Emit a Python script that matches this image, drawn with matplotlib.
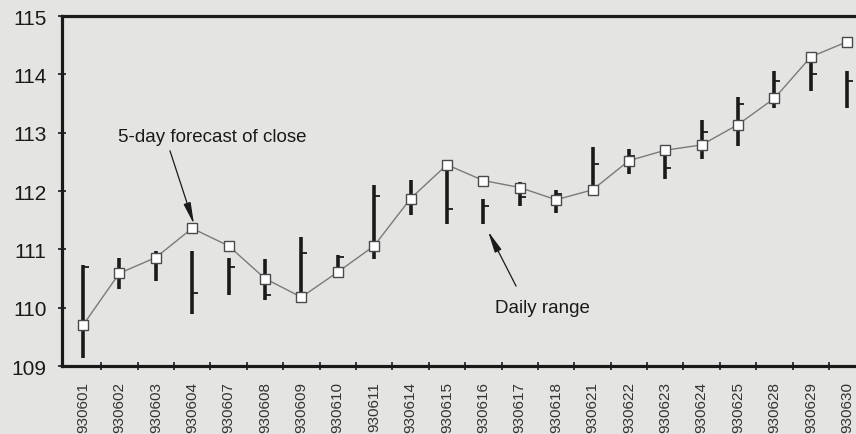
import numpy as np
import matplotlib
matplotlib.use('Agg')
import matplotlib.pyplot as plt

dates = ['930601', '930602', '930603', '930604', '930607', '930608', '930609',
         '930610', '930611', '930614', '930615', '930616', '930617', '930618',
         '930621', '930622', '930623', '930624', '930625', '930628', '930629',
         '930630']

# 5-day forecast of close (line with squares)
forecast = [109.70, 110.59, 110.86, 111.36, 111.06, 110.50, 110.18, 110.61,
            111.06, 111.87, 112.45, 112.18, 112.06, 111.85, 112.02, 112.52,
            112.70, 112.79, 113.14, 113.59, 114.30, 114.56]

# daily range bars
highs = [110.73, 110.85, 110.98, 110.98, 110.86, 110.83, 111.21, 110.90,
         112.10, 112.19, 112.43, 111.86, 112.16, 112.02, 112.76, 112.72,
         112.69, 113.21, 113.61, 114.06, 114.24, 114.06]
lows = [109.13, 110.32, 110.46, 109.89, 110.22, 110.14, 110.18, 110.66,
        110.83, 111.59, 111.43, 111.43, 111.74, 111.62, 112.03, 112.29,
        112.21, 112.55, 112.78, 113.42, 113.72, 113.43]
closes = [110.70, 110.60, 110.90, 110.25, 110.70, 110.22, 110.94, 110.87,
          111.92, 111.80, 111.69, 111.74, 111.90, 111.95, 112.46, 112.60,
          112.40, 113.01, 113.49, 113.89, 114.00, 113.89]

yticks = [109, 110, 111, 112, 113, 114, 115]

bg = '#e4e4e2'
ink = '#1a1a1a'
plt.rcParams['font.family'] = ['Liberation Sans', 'DejaVu Sans']

fig = plt.figure(figsize=(8.56, 4.35), dpi=100, facecolor=bg)
ax = fig.add_axes([0.0724, 0.1563, 0.9276, 0.8046], facecolor=bg)

x = np.arange(len(dates))
ax.vlines(x, lows, highs, color=ink, linewidth=2.6, zorder=2)
ax.plot(x, closes, linestyle='none', marker=1, markersize=4,
        markeredgewidth=1.3, color=ink, zorder=2)
ax.plot(x, forecast, color='#7a7a7a', linewidth=1.0, marker='s',
        markersize=6.5, markerfacecolor='white', markeredgecolor='#4a4a4a',
        markeredgewidth=1.0, zorder=3)

ax.set_xlim(-0.577, 21.24)
ax.set_ylim(109, 115)

for s in ['left', 'bottom', 'top']:
    ax.spines[s].set_linewidth(2.3)
    ax.spines[s].set_color(ink)
ax.spines['right'].set_visible(False)

ax.set_yticks(yticks)
ax.set_yticklabels([str(t) for t in yticks], fontsize=15, color=ink)
ax.tick_params(axis='y', direction='inout', length=6, width=1.2,
               pad=8, colors=ink)

ax.set_xticks(x)
ax.set_xticklabels(dates, rotation=90, fontsize=11, color='#333333')
ax.tick_params(axis='x', which='major', length=0, pad=11)
ax.set_xticks(x[:-1] + 0.5, minor=True)
ax.tick_params(axis='x', which='minor', direction='inout', length=6,
               width=1.2, colors=ink)

# annotations
ax.text(0.96, 112.93, '5-day forecast of close', fontsize=13.5,
        color=ink, ha='left', va='center')
ax.annotate('', xy=(3.05, 111.43), xytext=(2.39, 112.69),
            arrowprops=dict(arrowstyle='-|>,head_length=1.3,head_width=0.22',
                            color=ink, linewidth=0.9, shrinkA=0, shrinkB=0))
ax.text(11.32, 110.01, 'Daily range', fontsize=13.5,
        color=ink, ha='left', va='center')
ax.annotate('', xy=(11.13, 111.31), xytext=(11.9, 110.37),
            arrowprops=dict(arrowstyle='-|>,head_length=1.3,head_width=0.22',
                            color=ink, linewidth=0.9, shrinkA=0, shrinkB=0))

fig.savefig('out.png', dpi=100, facecolor=bg)
